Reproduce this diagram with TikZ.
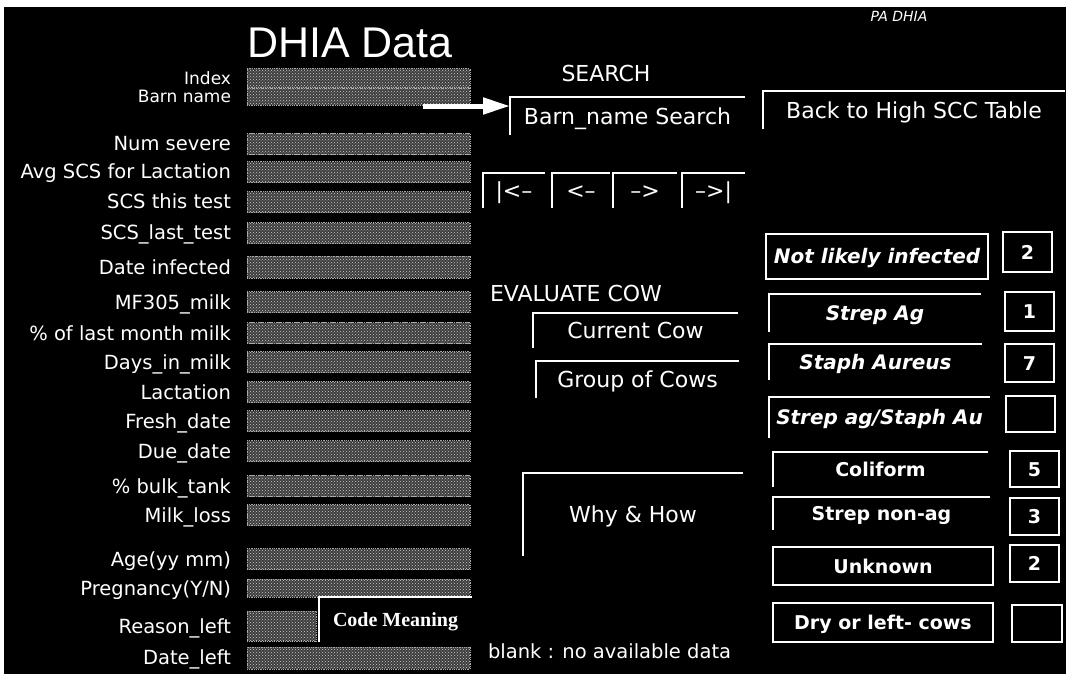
\documentclass[tikz,border=0pt]{standalone}
\usepackage{fontspec}
\usetikzlibrary{arrows.meta,patterns}
\newfontfamily\uisans{DejaVu Sans}
\newfontfamily\titlesans{Liberation Sans}
\newfontfamily\codeserif{Liberation Serif}
\definecolor{fieldgray}{gray}{0.24}
\definecolor{fielddot}{gray}{0.80}
\definecolor{fieldedge}{gray}{0.66}
\newcommand\fs[1]{\fontsize{#1}{#1}\selectfont}
% raised button: white top and left edges only
\newcommand\bevel[1]{\draw[edge] (#1.south west) -- (#1.north west) -- (#1.north east);}

\begin{document}
\begin{tikzpicture}[x=1pt,y=-1pt,
  every node/.style={inner sep=0pt,outer sep=0pt,text=white},
  lbl/.style={anchor=base east,font=\uisans\fs{19.5}},
  smalllbl/.style={anchor=base east,font=\uisans\fs{17}},
  field/.style={draw=fieldedge,densely dotted,line width=0.8pt,
    preaction={fill=fieldgray},pattern=crosshatch dots,pattern color=fielddot,
    minimum width=223pt},
  heading/.style={font=\uisans\fs{22},text height=16pt,text depth=0pt},
  btxt/.style={font=\uisans\fs{22},text height=16pt,text depth=0pt},
  edge/.style={draw=white,line width=2pt},
  itbtn/.style={font=\uisans\bfseries\itshape\fs{20},text height=14.5pt,text depth=0pt},
  bdbtn/.style={font=\uisans\bfseries\fs{19},text height=14pt,text depth=0pt},
  framed/.style={draw=white,line width=1.5pt},
  numbox/.style={draw=white,line width=1.5pt,font=\uisans\bfseries\fs{19},
    text height=14pt,text depth=0pt,minimum width=49pt},
  bigarrow/.style={draw=white,line width=5pt,-{Triangle[length=27pt,width=16pt]}}
]
\useasboundingbox (0,0) rectangle (1072,678);
\fill[white] (0,0) rectangle (1072,678);
\fill[black] (4,7) rectangle (1066,674);

% titles
\node[font=\titlesans\fs{43}] (title) at (350,43) {DHIA Data};
\node[font=\uisans\itshape\fs{14}] (pa) at (899,16) {PA DHIA};

% data fields
\node[field,minimum height=19pt] (f-idx)   at (358.5,78)  {};
\node[field,minimum height=17pt] (f-barn)  at (358.5,96.5){};
\node[field,minimum height=21pt] (f-sev)   at (358.5,144) {};
\node[field,minimum height=21pt] (f-avg)   at (358.5,172) {};
\node[field,minimum height=21pt] (f-this)  at (358.5,202) {};
\node[field,minimum height=21pt] (f-last)  at (358.5,233) {};
\node[field,minimum height=22pt] (f-inf)   at (358.5,267) {};
\node[field,minimum height=21pt] (f-mf)    at (358.5,302) {};
\node[field,minimum height=21pt] (f-pct)   at (358.5,333) {};
\node[field,minimum height=21pt] (f-dim)   at (358.5,362) {};
\node[field,minimum height=21pt] (f-lac)   at (358.5,392) {};
\node[field,minimum height=21pt] (f-fresh) at (358.5,421) {};
\node[field,minimum height=21pt] (f-due)   at (358.5,451) {};
\node[field,minimum height=21pt] (f-bulk)  at (358.5,486) {};
\node[field,minimum height=21pt] (f-loss)  at (358.5,515) {};
\node[field,minimum height=21pt] (f-age)   at (358.5,559) {};
\node[field,minimum height=18pt] (f-preg)  at (358.5,588) {};
\node[field,minimum width=69pt,minimum height=30pt] (f-reason) at (281.5,626) {};
\node[field,minimum height=22pt] (f-dleft) at (358.5,658) {};

% field labels
\node[smalllbl] at (231,84)  {Index};
\node[smalllbl] at (231,102) {Barn name};
\node[lbl] at (231,150) {Num severe};
\node[lbl] at (231,178) {Avg SCS for Lactation};
\node[lbl] at (231,208) {SCS this test};
\node[lbl] at (231,239) {SCS\_last\_test};
\node[lbl] at (231,274) {Date infected};
\node[lbl] at (231,309) {MF305\_milk};
\node[lbl] at (231,340) {\% of last month milk};
\node[lbl] at (231,369) {Days\_in\_milk};
\node[lbl] at (231,399) {Lactation};
\node[lbl] at (231,428) {Fresh\_date};
\node[lbl] at (231,458) {Due\_date};
\node[lbl] at (231,493) {\% bulk\_tank};
\node[lbl] at (231,522) {Milk\_loss};
\node[lbl] at (231,566) {Age(yy mm)};
\node[lbl] at (231,595) {Pregnancy(Y/N)};
\node[lbl] at (231,633) {Reason\_left};
\node[lbl] at (231,664) {Date\_left};

% code meaning button
\node[font=\codeserif\bfseries\fs{20},text height=13.5pt,text depth=0pt,
  minimum width=153pt,minimum height=45pt] (code) at (395.5,619.5) {Code Meaning};
\bevel{code}

% search block
\node[heading] (search) at (606,73) {SEARCH};
\node[btxt,minimum width=235pt,minimum height=38pt] (bsearch) at (627.5,116) {Barn\_name Search};
\bevel{bsearch}
\coordinate (arrowtail) at (423,106);
\draw[bigarrow] (arrowtail) -- (arrowtail -| bsearch.west);

% record navigation
\node[btxt,minimum width=62pt,minimum height=35pt] (nfirst) at (514,190.5) {|<–};
\node[btxt,minimum width=58pt,minimum height=35pt] (nprev)  at (581,190.5) {<–};
\node[btxt,minimum width=64pt,minimum height=35pt] (nnext)  at (645,190.5) {–>};
\node[btxt,minimum width=63pt,minimum height=35pt] (nlast)  at (713.5,190.5) {–>|};
\bevel{nfirst}\bevel{nprev}\bevel{nnext}\bevel{nlast}

% evaluation block
\node[heading,anchor=west] (evaluate) at (490,293) {EVALUATE COW};
\node[btxt,minimum width=205pt,minimum height=35pt] (current) at (635.5,330.5) {Current Cow};
\node[btxt,minimum width=203pt,minimum height=37pt] (group)   at (637.5,379.5) {Group of Cows};
\node[btxt,minimum width=220pt,minimum height=83pt] (why)     at (633,514.5)   {Why \& How};
\bevel{current}\bevel{group}\bevel{why}
\node[font=\uisans\fs{19.5},anchor=base west] (blank) at (488,658) {blank : no available data};

% back button
\node[font=\uisans\fs{22},text height=16pt,text depth=0pt,
  minimum width=302pt,minimum height=38pt] (back) at (914,110) {Back to High SCC Table};
\bevel{back}

% infection categories
\node[itbtn,framed,minimum width=222pt,minimum height=45pt] (notinf) at (877,256.5) {Not likely infected};
\node[itbtn,minimum width=212pt,minimum height=38pt] (strepag) at (875,313)   {Strep Ag};
\node[itbtn,minimum width=213pt,minimum height=36pt] (staph)   at (875.5,362) {Staph Aureus};
\node[itbtn,minimum width=221pt,minimum height=41pt] (both)    at (879.5,417.5) {Strep ag/Staph Au};
\node[bdbtn,minimum width=215pt,minimum height=35pt] (coli)    at (880.5,469.5) {Coliform};
\node[bdbtn,minimum width=217pt,minimum height=33pt] (nonag)   at (881.5,513.5) {Strep non-ag};
\node[bdbtn,framed,minimum width=220pt,minimum height=38pt] (unknown) at (883,566) {Unknown};
\node[bdbtn,framed,minimum width=220pt,minimum height=39pt] (dry)     at (883,622.5) {Dry or left- cows};
\bevel{strepag}\bevel{staph}\bevel{both}\bevel{coli}\bevel{nonag}

% counts
\node[numbox,minimum height=40pt] (c-notinf)  at (1027.5,252)  {2};
\node[numbox,minimum height=39pt] (c-strepag) at (1029.5,311.5){1};
\node[numbox,minimum height=38pt] (c-staph)   at (1029.5,363)  {7};
\node[numbox,minimum height=36pt] (c-both)    at (1030.5,414)  {};
\node[numbox,minimum height=36pt] (c-coli)    at (1034.5,469)  {5};
\node[numbox,minimum height=37pt] (c-nonag)   at (1034.5,516.5){3};
\node[numbox,minimum height=37pt] (c-unknown) at (1034.5,563.5){2};
\node[numbox,minimum height=37pt,minimum width=50pt] (c-dry) at (1037,623.5) {};
\end{tikzpicture}
\end{document}
